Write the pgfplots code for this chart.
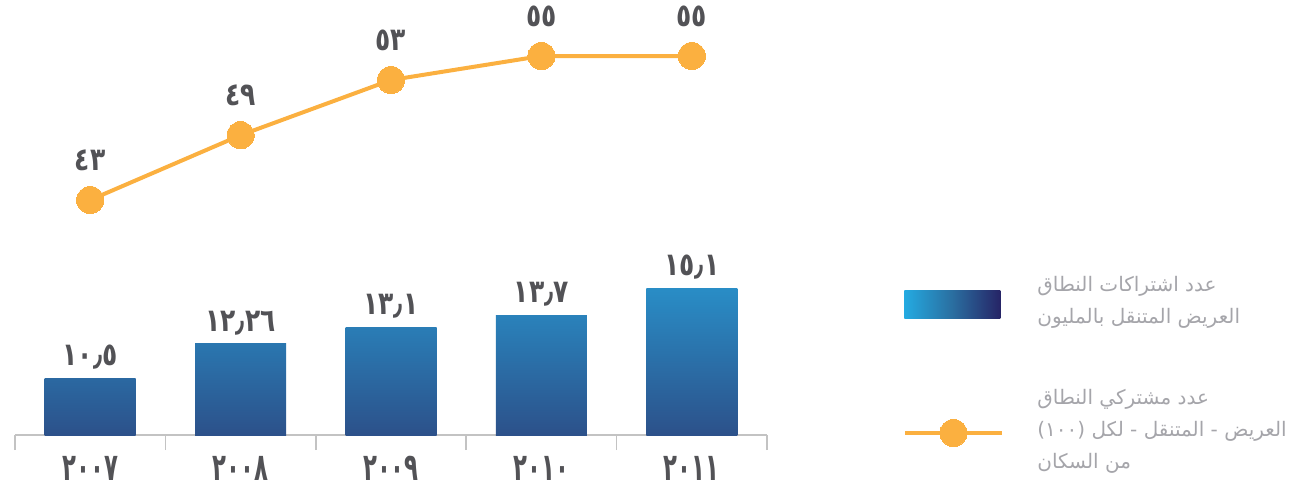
\documentclass[border=0pt]{standalone}
\usepackage{fontspec}
\usepackage{graphicx}
\usepackage{pgfplots}
\pgfplotsset{compat=1.18}
\TeXXeTstate=1
\newfontfamily\arabicfont[Script=Arabic]{DejaVu Sans}
\newfontfamily\numfont{DejaVu Sans}
\definecolor{barT}{RGB}{41,141,198}
\definecolor{barB}{RGB}{44,81,138}
\definecolor{legL}{RGB}{36,170,225}
\definecolor{legM}{RGB}{42,110,160}
\definecolor{legR}{RGB}{38,36,102}
\definecolor{lineO}{RGB}{251,176,64}
\definecolor{numgray}{RGB}{82,82,86}
\definecolor{txtgray}{RGB}{165,165,170}
\definecolor{axgray}{RGB}{195,195,195}
\newcommand{\lbl}[1]{\scalebox{0.78}[1]{\numfont\bfseries\fontsize{16}{19}\selectfont #1}}
\newcommand{\tlbl}[1]{\scalebox{0.6}[1]{\numfont\bfseries\fontsize{19}{22}\selectfont #1}}
\begin{document}
\begin{tikzpicture}
\useasboundingbox (0,0) rectangle (645pt,241.5pt);
% ---------------- bars ----------------
\begin{axis}[
  at={(7.5pt,24pt)}, anchor=south west,
  scale only axis, width=376pt, height=97.85pt,
  xmin=-0.5, xmax=4.5, ymin=7.6, ymax=17.6,
  clip=false,
  axis x line*=bottom, axis y line=none,
  x axis line style={draw=axgray, line width=0.75pt},
  xtick={0,1,2,3,4},
  xticklabels={\tlbl{٢٠٠٧},\tlbl{٢٠٠٨},\tlbl{٢٠٠٩},\tlbl{٢٠١٠},\tlbl{٢٠١١}},
  major tick length=0pt,
  xticklabel style={anchor=north, inner sep=0pt, yshift=-10.5pt, text=numgray},
  extra x ticks={-0.5,0.5,1.5,2.5,3.5,4.5},
  extra x tick labels={},
  extra x tick style={major tick length=7.5pt, tick align=outside, tick style={draw=axgray, line width=0.75pt}},
  legend style={at={(rel axis cs:1.1822,0.6694)}, anchor=west, draw=none, fill=none,
    inner sep=0pt, column sep=0pt, nodes={inner sep=0pt}},
  every node near coord/.append style={anchor=center, yshift=10.5pt, text=numgray},
]
\addplot[ybar, bar width=45.5pt, bar shift=0pt, draw=none, top color=barT!39!barB, bottom color=barB, nodes near coords={\lbl{١٠٫٥}}, forget plot] coordinates {(0,10.5)};
\addplot[ybar, bar width=45.5pt, bar shift=0pt, draw=none, top color=barT!62!barB, bottom color=barB, nodes near coords={\lbl{١٢٫٢٦}}, forget plot] coordinates {(1,12.26)};
\addplot[ybar, bar width=45.5pt, bar shift=0pt, draw=none, top color=barT!73!barB, bottom color=barB, nodes near coords={\lbl{١٣٫١}}, forget plot] coordinates {(2,13.1)};
\addplot[ybar, bar width=45.5pt, bar shift=0pt, draw=none, top color=barT!81!barB, bottom color=barB, nodes near coords={\lbl{١٣٫٧}}, forget plot] coordinates {(3,13.7)};
\addplot[ybar, bar width=45.5pt, bar shift=0pt, draw=none, top color=barT, bottom color=barB, nodes near coords={\lbl{١٥٫١}}, forget plot] coordinates {(4,15.1)};
\addlegendimage{legend image code/.code={\shade[draw=none, left color=legL, right color=legR, middle color=legM] (0pt,-7pt) rectangle (48pt,7pt);}}
\addlegendentry{}
\end{axis}
% ---------------- line ----------------
\begin{axis}[
  at={(7.5pt,123.5pt)}, anchor=south west,
  scale only axis, width=376pt, height=108pt,
  xmin=-0.5, xmax=4.5, ymin=40, ymax=58,
  clip=false, hide axis,
  legend style={at={(rel axis cs:1.1809,-0.912)}, anchor=west, draw=none, fill=none,
    inner sep=0pt, column sep=0pt, nodes={inner sep=0pt}},
  legend image code/.code={\draw[mark repeat=2, mark phase=2, #1] plot coordinates {(0pt,0pt) (24pt,0pt) (48.5pt,0pt)};},
]
\addplot[lineO, line width=2pt, mark=*, mark size=6.8pt, mark options={fill=lineO, draw=lineO, line width=0pt},
  point meta=explicit symbolic,
  nodes near coords={\lbl{\pgfplotspointmeta}},
  every node near coord/.append style={anchor=center, yshift=20pt, text=numgray}]
  coordinates {(0,43)[٤٣] (1,48.4)[٤٩] (2,53)[٥٣] (3,55)[٥٥] (4,55)[٥٥]};
\addlegendentry{}
\end{axis}
% ---------------- legend texts ----------------
\node[anchor=west, inner sep=0pt, text=txtgray, font=\fontsize{10}{16}\selectfont\arabicfont] at (518.5pt,91pt)
  {\begin{tabular}{@{}l@{}}\beginR عدد اشتراكات النطاق\endR\\\beginR العريض المتنقل بالمليون\endR\end{tabular}};
\node[anchor=west, inner sep=0pt, text=txtgray, font=\fontsize{10}{16}\selectfont\arabicfont] at (518.5pt,26.5pt)
  {\begin{tabular}{@{}l@{}}\beginR عدد مشتركي النطاق\endR\\\beginR العريض - المتنقل - لكل (١٠٠)\endR\\\beginR من السكان\endR\end{tabular}};
\end{tikzpicture}
\end{document}
